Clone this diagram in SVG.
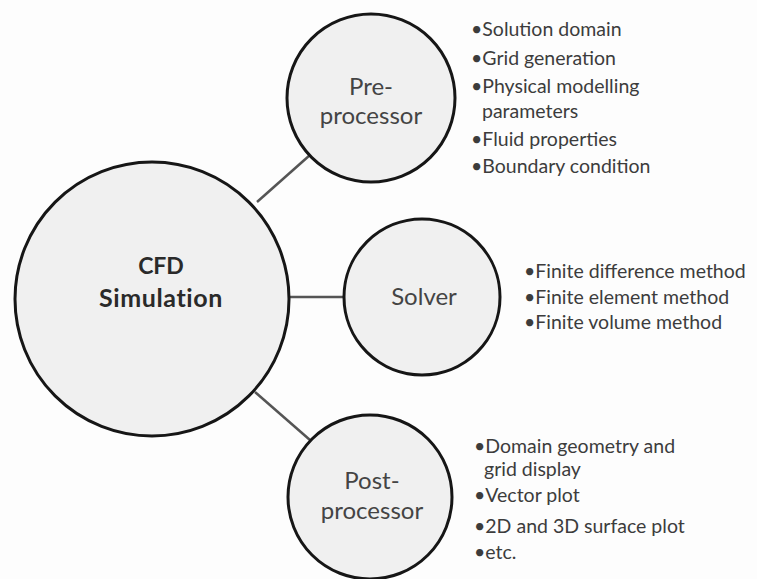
<svg xmlns="http://www.w3.org/2000/svg" width="757" height="579" viewBox="0 0 757 579">
  <style>
    .node { fill: #f0f0f0; stroke: #161616; stroke-width: 3; }
    .link { stroke: #555; stroke-width: 2.5; fill: none; }
    .label { font-family: Lato, "Open Sans", "Liberation Sans", sans-serif; fill: #444; text-anchor: middle; font-size: 24px; }
    .title { font-family: Lato, "Open Sans", "Liberation Sans", sans-serif; fill: #2a2a2a; font-weight: bold; text-anchor: middle; }
    .list { font-family: Lato, "Open Sans", "Liberation Sans", sans-serif; fill: #3c3c3c; font-size: 19.5px; }
  </style>
  <rect width="757" height="579" fill="#fdfdfd"/>

  <!-- spokes from the hub to each stage -->
  <g id="connectors">
    <line class="link" x1="257" y1="202" x2="310" y2="155"/>
    <line class="link" x1="289" y1="297" x2="344" y2="297"/>
    <line class="link" x1="255" y1="392" x2="310" y2="440"/>
  </g>

  <g id="cfd-simulation">
    <circle class="node" cx="152" cy="299" r="137"/>
    <text class="title" x="161" y="274" font-size="23">CFD</text>
    <text class="title" x="161" y="307" font-size="25" letter-spacing="0.6">Simulation</text>
  </g>

  <g id="pre-processor">
    <circle class="node" cx="371" cy="98" r="84"/>
    <text class="label" x="371" y="95">Pre-</text>
    <text class="label" x="371" y="124">processor</text>
  </g>

  <g id="solver">
    <circle class="node" cx="422" cy="297" r="78"/>
    <text class="label" x="424" y="305">Solver</text>
  </g>

  <g id="post-processor">
    <circle class="node" cx="370" cy="497" r="82"/>
    <text class="label" x="372" y="489">Post-</text>
    <text class="label" x="372" y="519">processor</text>
  </g>

  <g id="pre-processor-items">
    <text class="list" x="471" y="36">•Solution domain</text>
    <text class="list" x="471" y="65">•Grid generation</text>
    <text class="list" x="471" y="93">•Physical modelling</text>
    <text class="list" x="482" y="118">parameters</text>
    <text class="list" x="471" y="146">•Fluid properties</text>
    <text class="list" x="471" y="173">•Boundary condition</text>
  </g>

  <g id="solver-items">
    <text class="list" x="524" y="278">•Finite difference method</text>
    <text class="list" x="524" y="304">•Finite element method</text>
    <text class="list" x="524" y="329">•Finite volume method</text>
  </g>

  <g id="post-processor-items">
    <text class="list" x="474" y="453">•Domain geometry and</text>
    <text class="list" x="484" y="476">grid display</text>
    <text class="list" x="474" y="502">•Vector plot</text>
    <text class="list" x="474" y="533">•2D and 3D surface plot</text>
    <text class="list" x="474" y="559">•etc.</text>
  </g>
</svg>
